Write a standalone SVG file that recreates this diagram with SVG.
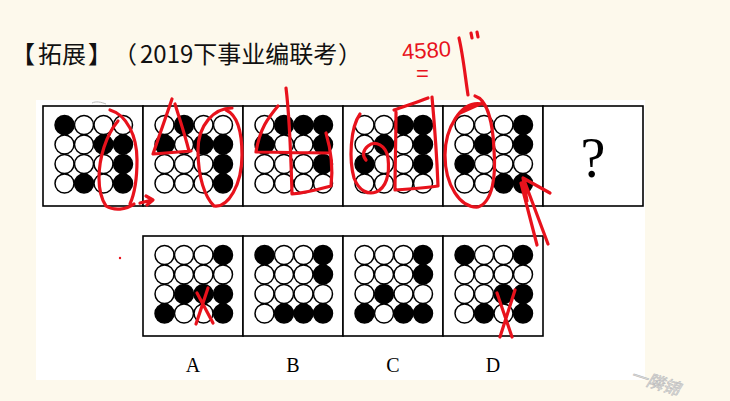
<svg xmlns="http://www.w3.org/2000/svg" width="730" height="401" viewBox="0 0 730 401">
<style>
.bx{fill:#fff;stroke:#000;stroke-width:1.6}
.w{fill:#fff;stroke:#000;stroke-width:1.5}
.b{fill:#000;stroke:#000;stroke-width:1.5}
.ink{fill:none;stroke:#e8121c;stroke-width:3.2;stroke-linecap:round;stroke-linejoin:round}
.lbl{font-family:"Liberation Serif",serif;font-size:20px;fill:#000;text-anchor:middle}
</style>
<rect x="0" y="0" width="730" height="401" fill="#fdf9ec"/>
<rect x="36" y="100" width="609" height="280" fill="#fff"/>
<text y="63" font-family="'Noto Sans CJK SC',sans-serif" font-size="24" fill="#111"><tspan x="11">【</tspan><tspan x="38">拓展</tspan><tspan x="88">】</tspan><tspan x="113">（</tspan><tspan x="140">2019下事业编联考</tspan><tspan x="338">）</tspan></text>

<g id="box1" transform="translate(43,106)">
<rect class="bx" width="100" height="100"/>
<circle class="b" cx="21.5" cy="19" r="9.5"/><circle class="w" cx="41" cy="19" r="9.5"/><circle class="w" cx="60.5" cy="19" r="9.5"/><circle class="w" cx="80" cy="19" r="9.5"/>
<circle class="w" cx="21.5" cy="38.5" r="9.5"/><circle class="w" cx="41" cy="38.5" r="9.5"/><circle class="b" cx="60.5" cy="38.5" r="9.5"/><circle class="b" cx="80" cy="38.5" r="9.5"/>
<circle class="w" cx="21.5" cy="58" r="9.5"/><circle class="w" cx="41" cy="58" r="9.5"/><circle class="w" cx="60.5" cy="58" r="9.5"/><circle class="b" cx="80" cy="58" r="9.5"/>
<circle class="w" cx="21.5" cy="77.5" r="9.5"/><circle class="b" cx="41" cy="77.5" r="9.5"/><circle class="w" cx="60.5" cy="77.5" r="9.5"/><circle class="b" cx="80" cy="77.5" r="9.5"/>
</g>
<g id="box2" transform="translate(143,106)">
<rect class="bx" width="100" height="100"/>
<circle class="w" cx="21.5" cy="19" r="9.5"/><circle class="b" cx="41" cy="19" r="9.5"/><circle class="w" cx="60.5" cy="19" r="9.5"/><circle class="w" cx="80" cy="19" r="9.5"/>
<circle class="b" cx="21.5" cy="38.5" r="9.5"/><circle class="w" cx="41" cy="38.5" r="9.5"/><circle class="b" cx="60.5" cy="38.5" r="9.5"/><circle class="b" cx="80" cy="38.5" r="9.5"/>
<circle class="w" cx="21.5" cy="58" r="9.5"/><circle class="w" cx="41" cy="58" r="9.5"/><circle class="w" cx="60.5" cy="58" r="9.5"/><circle class="b" cx="80" cy="58" r="9.5"/>
<circle class="w" cx="21.5" cy="77.5" r="9.5"/><circle class="w" cx="41" cy="77.5" r="9.5"/><circle class="w" cx="60.5" cy="77.5" r="9.5"/><circle class="b" cx="80" cy="77.5" r="9.5"/>
</g>
<g id="box3" transform="translate(243,106)">
<rect class="bx" width="100" height="100"/>
<circle class="w" cx="21.5" cy="19" r="9.5"/><circle class="b" cx="41" cy="19" r="9.5"/><circle class="b" cx="60.5" cy="19" r="9.5"/><circle class="b" cx="80" cy="19" r="9.5"/>
<circle class="b" cx="21.5" cy="38.5" r="9.5"/><circle class="w" cx="41" cy="38.5" r="9.5"/><circle class="w" cx="60.5" cy="38.5" r="9.5"/><circle class="b" cx="80" cy="38.5" r="9.5"/>
<circle class="w" cx="21.5" cy="58" r="9.5"/><circle class="w" cx="41" cy="58" r="9.5"/><circle class="w" cx="60.5" cy="58" r="9.5"/><circle class="b" cx="80" cy="58" r="9.5"/>
<circle class="w" cx="21.5" cy="77.5" r="9.5"/><circle class="w" cx="41" cy="77.5" r="9.5"/><circle class="w" cx="60.5" cy="77.5" r="9.5"/><circle class="w" cx="80" cy="77.5" r="9.5"/>
</g>
<g id="box4" transform="translate(343,106)">
<rect class="bx" width="100" height="100"/>
<circle class="w" cx="21.5" cy="19" r="9.5"/><circle class="w" cx="41" cy="19" r="9.5"/><circle class="b" cx="60.5" cy="19" r="9.5"/><circle class="b" cx="80" cy="19" r="9.5"/>
<circle class="w" cx="21.5" cy="38.5" r="9.5"/><circle class="b" cx="41" cy="38.5" r="9.5"/><circle class="w" cx="60.5" cy="38.5" r="9.5"/><circle class="b" cx="80" cy="38.5" r="9.5"/>
<circle class="b" cx="21.5" cy="58" r="9.5"/><circle class="w" cx="41" cy="58" r="9.5"/><circle class="w" cx="60.5" cy="58" r="9.5"/><circle class="b" cx="80" cy="58" r="9.5"/>
<circle class="w" cx="21.5" cy="77.5" r="9.5"/><circle class="w" cx="41" cy="77.5" r="9.5"/><circle class="w" cx="60.5" cy="77.5" r="9.5"/><circle class="w" cx="80" cy="77.5" r="9.5"/>
</g>
<g id="box5" transform="translate(443,106)">
<rect class="bx" width="100" height="100"/>
<circle class="w" cx="21.5" cy="19" r="9.5"/><circle class="w" cx="41" cy="19" r="9.5"/><circle class="w" cx="60.5" cy="19" r="9.5"/><circle class="b" cx="80" cy="19" r="9.5"/>
<circle class="w" cx="21.5" cy="38.5" r="9.5"/><circle class="b" cx="41" cy="38.5" r="9.5"/><circle class="w" cx="60.5" cy="38.5" r="9.5"/><circle class="b" cx="80" cy="38.5" r="9.5"/>
<circle class="b" cx="21.5" cy="58" r="9.5"/><circle class="w" cx="41" cy="58" r="9.5"/><circle class="w" cx="60.5" cy="58" r="9.5"/><circle class="w" cx="80" cy="58" r="9.5"/>
<circle class="w" cx="21.5" cy="77.5" r="9.5"/><circle class="w" cx="41" cy="77.5" r="9.5"/><circle class="b" cx="60.5" cy="77.5" r="9.5"/><circle class="b" cx="80" cy="77.5" r="9.5"/>
</g>
<g id="box6" transform="translate(543,106)">
<rect class="bx" width="100" height="100"/>
<text x="50" y="71" font-family="'Liberation Serif',serif" font-size="56" text-anchor="middle">?</text>
</g>

<g id="optA" transform="translate(143,236)">
<rect class="bx" width="100" height="100"/>
<circle class="w" cx="21.5" cy="19" r="9.5"/><circle class="w" cx="41" cy="19" r="9.5"/><circle class="w" cx="60.5" cy="19" r="9.5"/><circle class="b" cx="80" cy="19" r="9.5"/>
<circle class="w" cx="21.5" cy="38.5" r="9.5"/><circle class="w" cx="41" cy="38.5" r="9.5"/><circle class="w" cx="60.5" cy="38.5" r="9.5"/><circle class="w" cx="80" cy="38.5" r="9.5"/>
<circle class="w" cx="21.5" cy="58" r="9.5"/><circle class="b" cx="41" cy="58" r="9.5"/><circle class="b" cx="60.5" cy="58" r="9.5"/><circle class="b" cx="80" cy="58" r="9.5"/>
<circle class="b" cx="21.5" cy="77.5" r="9.5"/><circle class="w" cx="41" cy="77.5" r="9.5"/><circle class="w" cx="60.5" cy="77.5" r="9.5"/><circle class="b" cx="80" cy="77.5" r="9.5"/>
</g>
<g id="optB" transform="translate(243,236)">
<rect class="bx" width="100" height="100"/>
<circle class="b" cx="21.5" cy="19" r="9.5"/><circle class="w" cx="41" cy="19" r="9.5"/><circle class="w" cx="60.5" cy="19" r="9.5"/><circle class="b" cx="80" cy="19" r="9.5"/>
<circle class="w" cx="21.5" cy="38.5" r="9.5"/><circle class="w" cx="41" cy="38.5" r="9.5"/><circle class="w" cx="60.5" cy="38.5" r="9.5"/><circle class="b" cx="80" cy="38.5" r="9.5"/>
<circle class="w" cx="21.5" cy="58" r="9.5"/><circle class="w" cx="41" cy="58" r="9.5"/><circle class="w" cx="60.5" cy="58" r="9.5"/><circle class="w" cx="80" cy="58" r="9.5"/>
<circle class="w" cx="21.5" cy="77.5" r="9.5"/><circle class="b" cx="41" cy="77.5" r="9.5"/><circle class="b" cx="60.5" cy="77.5" r="9.5"/><circle class="b" cx="80" cy="77.5" r="9.5"/>
</g>
<g id="optC" transform="translate(343,236)">
<rect class="bx" width="100" height="100"/>
<circle class="w" cx="21.5" cy="19" r="9.5"/><circle class="w" cx="41" cy="19" r="9.5"/><circle class="w" cx="60.5" cy="19" r="9.5"/><circle class="b" cx="80" cy="19" r="9.5"/>
<circle class="w" cx="21.5" cy="38.5" r="9.5"/><circle class="w" cx="41" cy="38.5" r="9.5"/><circle class="w" cx="60.5" cy="38.5" r="9.5"/><circle class="b" cx="80" cy="38.5" r="9.5"/>
<circle class="w" cx="21.5" cy="58" r="9.5"/><circle class="b" cx="41" cy="58" r="9.5"/><circle class="w" cx="60.5" cy="58" r="9.5"/><circle class="w" cx="80" cy="58" r="9.5"/>
<circle class="b" cx="21.5" cy="77.5" r="9.5"/><circle class="w" cx="41" cy="77.5" r="9.5"/><circle class="b" cx="60.5" cy="77.5" r="9.5"/><circle class="b" cx="80" cy="77.5" r="9.5"/>
</g>
<g id="optD" transform="translate(443,236)">
<rect class="bx" width="100" height="100"/>
<circle class="b" cx="21.5" cy="19" r="9.5"/><circle class="w" cx="41" cy="19" r="9.5"/><circle class="w" cx="60.5" cy="19" r="9.5"/><circle class="b" cx="80" cy="19" r="9.5"/>
<circle class="w" cx="21.5" cy="38.5" r="9.5"/><circle class="w" cx="41" cy="38.5" r="9.5"/><circle class="w" cx="60.5" cy="38.5" r="9.5"/><circle class="w" cx="80" cy="38.5" r="9.5"/>
<circle class="w" cx="21.5" cy="58" r="9.5"/><circle class="w" cx="41" cy="58" r="9.5"/><circle class="b" cx="60.5" cy="58" r="9.5"/><circle class="b" cx="80" cy="58" r="9.5"/>
<circle class="w" cx="21.5" cy="77.5" r="9.5"/><circle class="b" cx="41" cy="77.5" r="9.5"/><circle class="w" cx="60.5" cy="77.5" r="9.5"/><circle class="b" cx="80" cy="77.5" r="9.5"/>
</g>

<g id="labels">
<text class="lbl" x="193" y="372">A</text>
<text class="lbl" x="293" y="372">B</text>
<text class="lbl" x="393" y="372">C</text>
<text class="lbl" x="493" y="372">D</text>
</g>

<g id="annotations">
<path class="ink" d="M110,110 C127,115 137,136 137,160 C137,180 134,195 130,204"/>
<path class="ink" d="M118,121 C106,135 99,158 99,178 C99,192 102,200 106,206 C114,211 126,210 134,204 M140,203 L152,200 M146,196 L153,200 L147,205"/>
<path class="ink" d="M172,99 L153,154 L191,151 M175,104 C180,120 185,135 189,151"/>
<path class="ink" d="M232,108 C214,108 198,125 198,150 C198,178 205,197 214,206 C228,208 242,185 242,155 C242,130 237,115 226,110"/>
<path class="ink" d="M278,106 C268,118 260,128 256,152 L328,153 M286,88 C290,120 291,160 292,194 C305,193 320,189 331,186 C333,170 331,150 326,133"/>
<path class="ink" d="M360,114 C350,128 349,160 354,178 C359,191 368,195 376,192 C386,188 390,175 388,158 C386,145 375,140 368,146 C363,150 362,156 366,160"/>
<path class="ink" d="M396,112 C396,140 395,165 395,190 C410,189 425,188 438,186 C437,160 435,130 432,97 M394,110 C405,106 418,102 428,98"/>
<path class="ink" d="M482,104 C460,100 445,130 445,155 C445,185 460,208 478,207 C493,202 496,175 494,150 C493,125 488,100 475,96 M460,113 L480,104"/>
<path class="ink" d="M548,244 L524,180 M537,245 L521,183 M523,178 L527,201 M523,178 L550,193"/>
<path class="ink" d="M208,288 L196,324 M197,293 L213,323"/>
<path class="ink" d="M515,290 L500,337 M497,293 L512,337"/>
<circle cx="120" cy="258" r="1.2" fill="#e8121c"/>
<text x="402" y="58" font-family="'Liberation Sans',sans-serif" font-size="22" fill="#e8121c" transform="rotate(-4 425 50)">4580</text>
<text x="416" y="81" font-family="'Liberation Sans',sans-serif" font-size="22" fill="#e8121c">=</text>
<path class="ink" d="M459,38 C463,55 465,75 468,95" stroke-width="2.2"/>
<path class="ink" d="M471,33 L472,38 M477,32 L478,37" stroke-width="1.8"/>
</g>
<path d="M92,103 C96,101 101,102 106,104" fill="none" stroke="#bbb" stroke-width="1"/>
<text x="630" y="389" font-family="'Noto Sans CJK SC',sans-serif" font-size="17" font-style="italic" fill="#e6e6e6" stroke="#bdbdbd" stroke-width="0.6" transform="rotate(18 658 382)">一隣锦</text>
</svg>
